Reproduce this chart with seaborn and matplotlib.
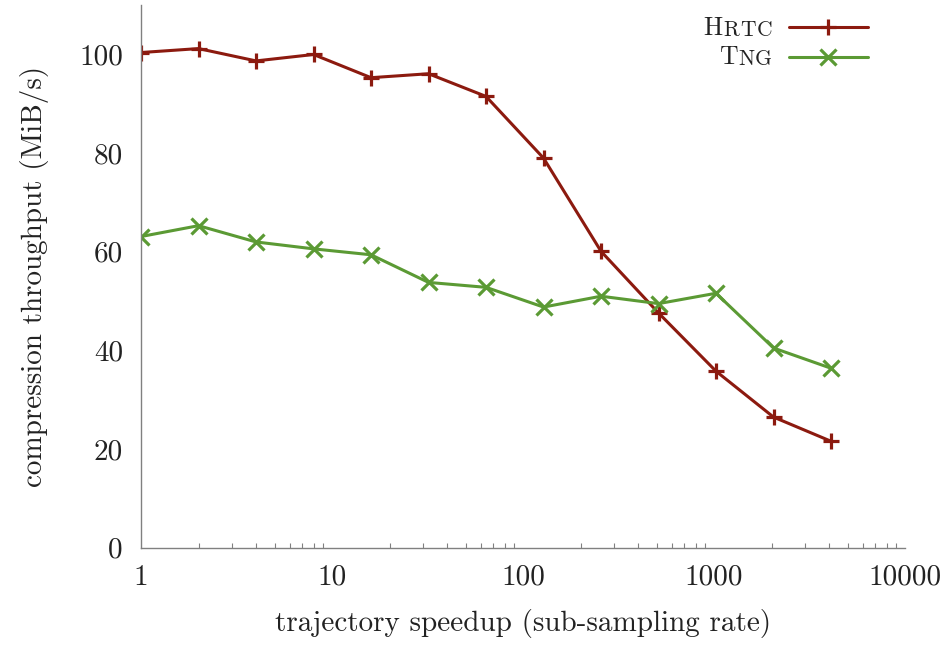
import numpy as np
import pandas as pd
import matplotlib
matplotlib.use("Agg")
import matplotlib.pyplot as plt
from matplotlib.lines import Line2D
import seaborn as sns

# Data
speedup = [1, 2, 4, 8, 16, 32, 64, 128, 256, 512, 1024, 2048, 4096]
hrtc = [100.4, 101.2, 98.7, 100.0, 95.3, 96.1, 91.5, 79.0, 60.1, 47.6, 35.8, 26.5, 21.6]
tng = [63.1, 65.3, 62.0, 60.6, 59.4, 53.8, 52.8, 48.8, 51.0, 49.5, 51.6, 40.5, 36.4]
series = ["Hrtc", "Tng"]
x_ticks = [1, 10, 100, 1000, 10000]
y_ticks = [0, 20, 40, 60, 80, 100]

df = pd.DataFrame({
    "speedup": speedup * 2,
    "throughput": hrtc + tng,
    "method": [series[0]] * len(speedup) + [series[1]] * len(speedup),
})

sns.set_theme(style="white")
plt.rcParams["font.family"] = ["cmr10", "DejaVu Serif"]
plt.rcParams["axes.formatter.use_mathtext"] = True
plt.rcParams["mathtext.fontset"] = "cm"

red = "#8c1a0f"
green = "#5b9a34"
gray = "#808080"
txt = "#222222"

fig = plt.figure(figsize=(9.51, 6.46), dpi=100)
ax = fig.add_axes([0.1483, 0.152, 0.8034, 0.840])

sns.lineplot(data=df, x="speedup", y="throughput", hue="method", style="method",
             palette={"Hrtc": red, "Tng": green},
             markers={"Hrtc": "P", "Tng": "X"}, dashes=False, legend=False,
             linewidth=2.2, ax=ax)
# swap to thin plus/cross markers like the original
for line, m in zip(ax.lines, ["+", "x"]):
    line.set_marker(m)
    line.set_markersize(11)
    line.set_markeredgewidth(2.3)
    line.set_markeredgecolor(line.get_color())

ax.set_xscale("log")
ax.set_xlim(1, 10000)
ax.set_ylim(0, 110)
ax.set_xticks(x_ticks)
ax.set_xticklabels([str(t) for t in x_ticks])
ax.set_yticks(y_ticks)
ax.set_yticklabels([str(t) for t in y_ticks])

for side in ["top", "right"]:
    ax.spines[side].set_visible(False)
for side in ["left", "bottom"]:
    ax.spines[side].set_color(gray)
    ax.spines[side].set_linewidth(1.0)

ax.tick_params(axis="both", which="major", direction="in", length=6, width=0.9,
               color=gray, labelsize=21, labelcolor=txt)
ax.tick_params(axis="x", which="minor", direction="in", length=3.5, width=0.8, color=gray)
ax.tick_params(axis="x", which="major", pad=12)
ax.tick_params(axis="y", which="major", pad=13)
ax.tick_params(axis="y", which="minor", left=False)
ax.tick_params(axis="x", which="minor", bottom=True)

ax.set_xlabel("trajectory speedup (sub-sampling rate)", fontsize=21, color=txt, labelpad=13)
ax.set_ylabel("compression throughput (MiB/s)", fontsize=21, color=txt, labelpad=22)

# Legend: handles on the right, small-caps style labels drawn as text
handles = [Line2D([], [], color=red, lw=2.2, marker="+", ms=11, mew=2.3),
           Line2D([], [], color=green, lw=2.2, marker="x", ms=11, mew=2.3)]
leg = ax.legend(handles, ["", ""], loc="upper right", frameon=False, handlelength=3.35,
                fontsize=17, bbox_to_anchor=(0.979, 1.015), labelspacing=0.34,
                handletextpad=0)

def small_caps(first, rest, x, y):
    # chain letters with a little extra tracking to mimic the wide small caps
    prev = fig.text(x, y, rest[-1], fontsize=15.5, ha="right", va="baseline", color=txt)
    for ch in reversed(rest[:-1]):
        prev = ax.annotate(ch, xy=(0, 0), xycoords=prev, xytext=(-0.6, 0),
                           textcoords="offset points", fontsize=15.5, ha="right",
                           va="bottom", color=txt, annotation_clip=False)
    ax.annotate(first, xy=(0, 0), xycoords=prev, xytext=(-0.6, 0),
                textcoords="offset points", fontsize=18.5, ha="right",
                va="bottom", color=txt, annotation_clip=False)

small_caps("H", "RTC", 772 / 951, 1 - 36 / 646)
small_caps("T", "NG", 772 / 951, 1 - 65 / 646)

fig.savefig("out.png", dpi=100)
